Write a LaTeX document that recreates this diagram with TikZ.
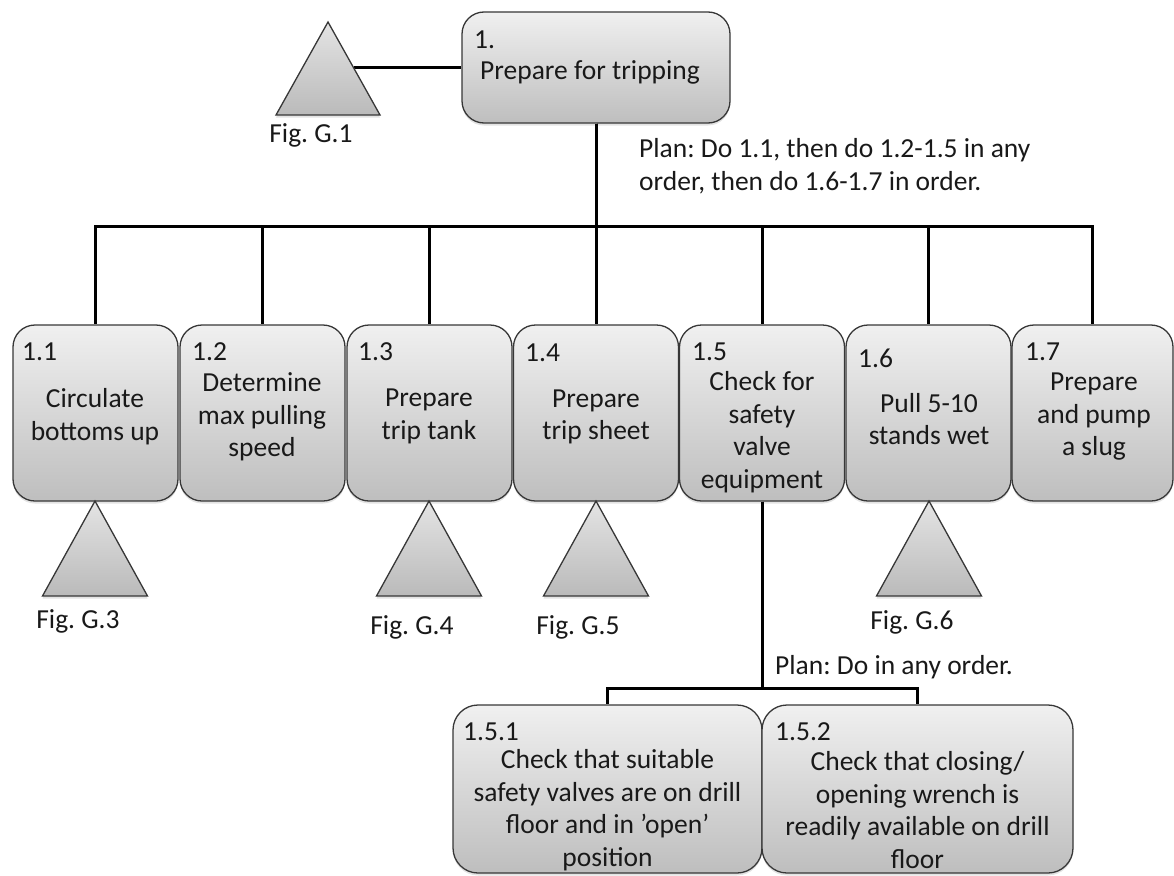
\documentclass[tikz,border=0pt]{standalone}
\usepackage{fontspec}
\setmainfont{Carlito}
\usetikzlibrary{shadows}
\definecolor{boxtop}{RGB}{240,240,240}
\definecolor{boxbot}{RGB}{190,190,190}
\definecolor{tritop}{RGB}{228,228,228}
\definecolor{tribot}{RGB}{186,186,186}
\definecolor{edge}{RGB}{55,55,55}
\definecolor{ink}{RGB}{25,25,25}
\frenchspacing
\begin{document}
\begin{tikzpicture}[x=1pt,y=-1pt,
  font=\fontsize{27.5}{32.5}\selectfont,
  softshadow/.style={drop shadow={opacity=0.22, shadow xshift=0pt, shadow yshift=-2.5pt}},
  taskbox/.style={draw=edge, line width=1.3pt, rounded corners=22pt,
    top color=boxtop, bottom color=boxbot, inner sep=0pt, softshadow},
  num/.style={anchor=west, inner sep=0pt, text=ink},
  txt/.style={align=center, inner sep=0pt, text=ink},
  figlabel/.style={inner sep=0pt, text=ink},
  conn/.style={line width=3pt, black},
  tri/.style={draw=edge, line width=1.3pt, line join=miter,
    top color=tritop, bottom color=tribot, softshadow}]
\useasboundingbox (0,0) rectangle (1174,875);

% top task
\node[taskbox, minimum width=268pt, minimum height=111pt] (t1) at (596,67.5) {};
\node[num] (t1n) at (474,40) {1.};
\node[txt] (t1t) at (590,72) {Prepare for tripping};

% first-level subtasks
\node[taskbox, minimum width=165pt, minimum height=176pt] (b11) at (95.5,413) {};
\node[taskbox, minimum width=165pt, minimum height=176pt] (b12) at (262.5,413) {};
\node[taskbox, minimum width=165pt, minimum height=176pt] (b13) at (429.5,413) {};
\node[taskbox, minimum width=165pt, minimum height=176pt] (b14) at (596,413) {};
\node[taskbox, minimum width=165pt, minimum height=176pt] (b15) at (762,413) {};
\node[taskbox, minimum width=165pt, minimum height=176pt] (b16) at (928.5,413) {};
\node[taskbox, minimum width=161pt, minimum height=176pt] (b17) at (1092.5,413) {};

\node[num] (b11n) at (22,352) {1.1};
\node[num] (b12n) at (192,352) {1.2};
\node[num] (b13n) at (358,352) {1.3};
\node[num] (b14n) at (525,353) {1.4};
\node[num] (b15n) at (692,352) {1.5};
\node[num] (b16n) at (858,358) {1.6};
\node[num] (b17n) at (1025,352) {1.7};

\node[txt] (b11t) at (95,416.5) {Circulate\\bottoms up};
\node[txt] (b12t) at (262,417) {Determine\\max pulling\\speed};
\node[txt] (b13t) at (429,416.5) {Prepare\\trip tank};
\node[txt] (b14t) at (596,417) {Prepare\\trip sheet};
\node[txt] (b15t) at (762,432) {Check for\\safety\\valve\\equipment};
\node[txt] (b16t) at (929,419) {Pull 5-10\\stands wet};
\node[txt] (b17t) at (1094,417) {Prepare\\and pump\\a slug};

% second-level subtasks of 1.5
\node[taskbox, rounded corners=25pt, minimum width=309pt, minimum height=168pt] (b151) at (607.5,789) {};
\node[taskbox, rounded corners=25pt, minimum width=311pt, minimum height=168pt] (b152) at (917.5,789) {};
\node[num] (b151n) at (463,732) {1.5.1};
\node[num] (b152n) at (775,732) {1.5.2};
\node[txt] (b151t) at (607.5,810) {Check that suitable\\safety valves are on drill\\floor and in ’open’\\position};
\node[txt] (b152t) at (917.5,810) {Check that closing/\\opening wrench is\\readily available on drill\\floor};

% plans
\node[txt, align=left, anchor=west] (plan1) at (639,166) {Plan: Do 1.1, then do 1.2-1.5 in any\\order, then do 1.6-1.7 in order.};
\node[txt, anchor=west] (plan15) at (775,667) {Plan: Do in any order.};

% connectors
\coordinate (bus) at (0,226);
\coordinate (sbus) at (0,688);
\foreach \c in {b11,b12,b13,b14,b15,b16,b17}
  \draw[conn] (t1.south) -- (t1.south |- bus) -| (\c.north);
\foreach \c in {b151,b152}
  \draw[conn] (b15.south) -- (b15.south |- sbus) -| (\c.north);
\coordinate (g1r) at (353.5,67.5);
\draw[conn] (g1r) -- (t1.west);

% references to other figures
\path[tri] (328,22) -- (380,115) -- (276,115) -- cycle;
\path[tri] (95,501) -- (147.5,596) -- (42.5,596) -- cycle;
\path[tri] (429,501) -- (481.5,596) -- (376.5,596) -- cycle;
\path[tri] (596,501) -- (648.5,596) -- (543.5,596) -- cycle;
\path[tri] (929,501) -- (981.5,596) -- (876.5,596) -- cycle;

\node[figlabel] (fg1) at (311,135) {Fig. G.1};
\node[figlabel] (fg3) at (78,621) {Fig. G.3};
\node[figlabel] (fg4) at (412,627) {Fig. G.4};
\node[figlabel] (fg5) at (578,627) {Fig. G.5};
\node[figlabel] (fg6) at (912,622) {Fig. G.6};
\end{tikzpicture}
\end{document}
